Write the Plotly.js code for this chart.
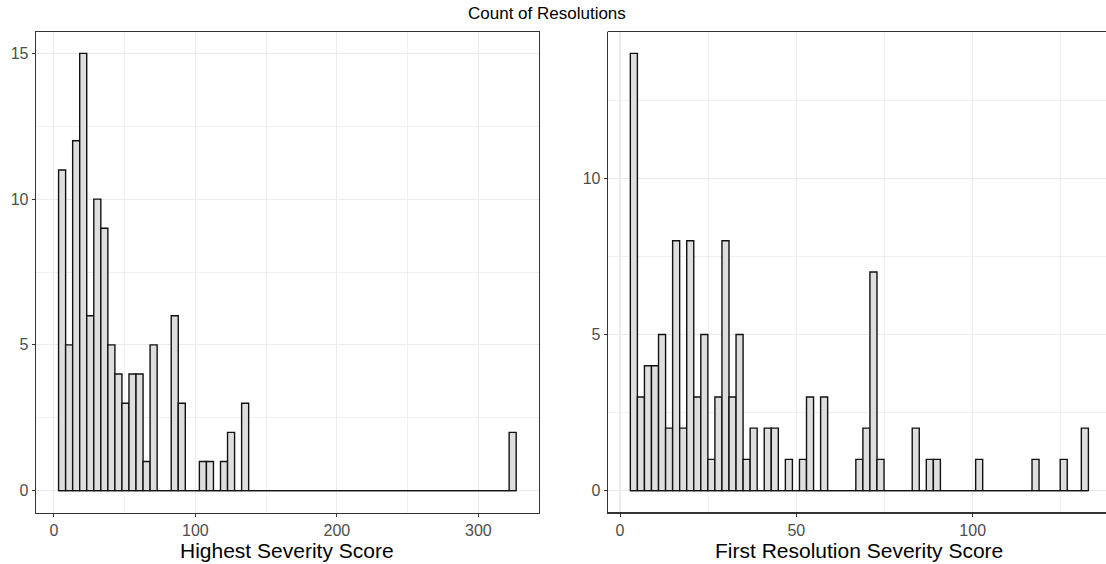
<!DOCTYPE html>
<html>
<head>
<meta charset="utf-8">
<script src="https://cdn.plot.ly/plotly-3.0.1.min.js"></script>
<style>html,body{margin:0;padding:0;background:#fff;}#chart{width:1106px;height:564px;}</style>
</head>
<body>
<div id="chart"></div>
<script>
// ---- data (65 bins per panel) ----
const chartTitle = "Count of Resolutions";
const leftTitle = "Highest Severity Score";
const rightTitle = "First Resolution Severity Score";

const leftBinStart = 3.3;
const leftBinWidth = 4.976;
const leftCounts = [11,5,12,15,6,10,9,5,4,3,4,4,1,5,0,0,6,3,0,0,1,1,0,1,2,0,3,
  0,0,0,0,0,0,0,0,0,0,0,0,0,0,0,0,0,0,0,0,0,0,0,0,0,0,0,0,0,0,0,0,0,0,0,0,0,2];

const rightBinStart = 2.93;
const rightBinWidth = 1.998;
const rightCounts = [14,3,4,4,5,2,8,2,8,3,5,1,3,8,3,5,1,2,0,2,2,0,1,0,1,3,0,3,
  0,0,0,0,1,2,7,1,0,0,0,0,2,0,1,1,0,0,0,0,0,1,0,0,0,0,0,0,0,1,0,0,0,1,0,0,2];

const leftTicks = [0,100,200,300];
const rightTicks = [0,50,100];
const leftYTicks = [0,5,10,15];
const rightYTicks = [0,5,10];

// ---- build ----
function centers(start, w, n){ const a=[]; for(let i=0;i<n;i++) a.push(start+(i+0.5)*w); return a; }
const W = 1106, H = 564;
const px = v => v / W;
const py = v => 1 - v / H;

const fillC = '#DEDEDE';
const lineC = '#111111';
const FONT = 'Liberation Sans, Arial, sans-serif';

const traces = [
  {type:'scatter', mode:'lines', xaxis:'x', yaxis:'y',
   x:[leftBinStart, leftBinStart + leftBinWidth*leftCounts.length], y:[0,0],
   line:{color:lineC, width:1.4}, hoverinfo:'skip', showlegend:false},
  {type:'bar', xaxis:'x', yaxis:'y', x:centers(leftBinStart,leftBinWidth,leftCounts.length), y:leftCounts,
   width:leftBinWidth, marker:{color:fillC, line:{color:lineC, width:1.4}}, showlegend:false},
  {type:'scatter', mode:'lines', xaxis:'x2', yaxis:'y2',
   x:[rightBinStart, rightBinStart + rightBinWidth*rightCounts.length], y:[0,0],
   line:{color:lineC, width:1.4}, hoverinfo:'skip', showlegend:false},
  {type:'bar', xaxis:'x2', yaxis:'y2', x:centers(rightBinStart,rightBinWidth,rightCounts.length), y:rightCounts,
   width:rightBinWidth, marker:{color:fillC, line:{color:lineC, width:1.4}}, showlegend:false}
];

const tickFont = {family:FONT, size:16, color:'#4D4D4D'};
const gridC = '#EBEBEB';
function axisCommon(extra){
  return Object.assign({
    showgrid:true, gridcolor:gridC, gridwidth:1.1,
    zeroline:false, showline:true, linecolor:'#333333', linewidth:1,
    ticks:'outside', ticklen:3, tickcolor:'#333333', tickwidth:1,
    tickfont:tickFont, tickmode:'array', fixedrange:true
  }, extra);
}

const yDom = [py(512.5), py(31.5)];
const layout = {
  width:W, height:H, margin:{l:0,r:0,t:0,b:0},
  paper_bgcolor:'#ffffff', plot_bgcolor:'#ffffff',
  bargap:0, showlegend:false,
  xaxis: axisCommon({domain:[px(35.7), px(539)], range:[-12.87, 342.87], anchor:'y',
    tickvals:leftTicks, ticktext:leftTicks.map(String), mirror:true,
    minor:{showgrid:true, gridcolor:gridC, gridwidth:0.7, tickvals:[50,150,250], ticks:''}}),
  yaxis: axisCommon({domain:yDom, range:[-0.75, 15.75], anchor:'x',
    tickvals:leftYTicks, ticktext:leftYTicks.map(String), mirror:true,
    minor:{showgrid:true, gridcolor:gridC, gridwidth:0.7, tickvals:[2.5,7.5,12.5], ticks:''}}),
  xaxis2: axisCommon({domain:[px(607.7), 1], range:[-3.49, (1106-620)/3.527], anchor:'y2',
    tickvals:rightTicks, ticktext:rightTicks.map(String), mirror:false,
    minor:{showgrid:true, gridcolor:gridC, gridwidth:0.7, tickvals:[25,75,125], ticks:''}}),
  yaxis2: axisCommon({domain:yDom, range:[-0.7, 14.7], anchor:'x2',
    tickvals:rightYTicks, ticktext:rightYTicks.map(String), mirror:false,
    minor:{showgrid:true, gridcolor:gridC, gridwidth:0.7, tickvals:[2.5,7.5,12.5], ticks:''}}),
  shapes:[
    {type:'line', xref:'paper', yref:'paper', x0:px(607.7), x1:1, y0:yDom[1], y1:yDom[1], line:{color:'#333333', width:1}},
    {type:'line', xref:'paper', yref:'paper', x0:px(607.7), x1:1, y0:yDom[0], y1:yDom[0], line:{color:'#333333', width:1}}
  ],
  annotations:[
    {text:chartTitle, xref:'paper', yref:'paper', x:px(547), y:py(13), xanchor:'center', yanchor:'middle',
     showarrow:false, font:{family:FONT, size:17, color:'#000000'}},
    {text:leftTitle, xref:'paper', yref:'paper', x:px(287.4), y:0, xanchor:'center', yanchor:'bottom',
     showarrow:false, font:{family:FONT, size:21, color:'#000000'}},
    {text:rightTitle, xref:'paper', yref:'paper', x:px(859), y:0, xanchor:'center', yanchor:'bottom',
     showarrow:false, font:{family:FONT, size:21, color:'#000000'}}
  ]
};

Plotly.newPlot('chart', traces, layout, {displayModeBar:false, staticPlot:true});
</script>
</body>
</html>
